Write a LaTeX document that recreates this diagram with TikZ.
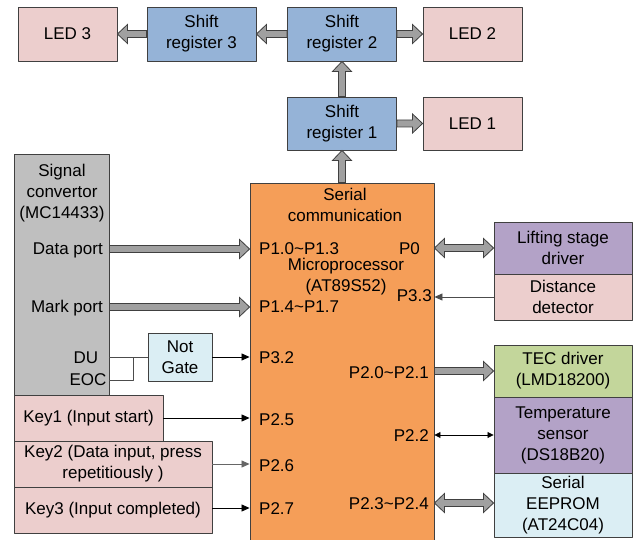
\documentclass[tikz,border=0pt]{standalone}
\usepackage{fontspec}
\setmainfont{Liberation Sans}
\usetikzlibrary{calc,arrows.meta}
\definecolor{ledpink}{RGB}{236,206,205}
\definecolor{regblue}{RGB}{149,179,215}
\definecolor{cpuorange}{RGB}{245,158,88}
\definecolor{convgray}{RGB}{191,191,191}
\definecolor{drvpurple}{RGB}{179,162,199}
\definecolor{tecgreen}{RGB}{195,214,155}
\definecolor{gatecyan}{RGB}{219,238,244}
\definecolor{edge}{RGB}{64,64,64}
\definecolor{busgray}{RGB}{160,160,160}
% block arrow from #1 to #2
\newcommand\busarrow[2]{%
  \coordinate (fa-s) at (#1); \coordinate (fa-e) at (#2);
  \coordinate (fa-h) at ($(fa-e)!10pt!(fa-s)$);
  \draw[bus] ($(fa-s)!3.5pt!90:(fa-e)$) -- ($(fa-h)!3.5pt!90:(fa-e)$) -- ($(fa-h)!9.5pt!90:(fa-e)$) -- (fa-e)
    -- ($(fa-h)!9.5pt!-90:(fa-e)$) -- ($(fa-h)!3.5pt!-90:(fa-e)$) -- ($(fa-s)!3.5pt!-90:(fa-e)$) -- cycle;}
% block arrow with two heads
\newcommand\busdarrow[2]{%
  \coordinate (fa-s) at (#1); \coordinate (fa-e) at (#2);
  \coordinate (fa-g) at ($(fa-s)!10pt!(fa-e)$);
  \coordinate (fa-h) at ($(fa-e)!10pt!(fa-s)$);
  \draw[bus] (fa-s) -- ($(fa-g)!9.5pt!90:(fa-e)$) -- ($(fa-g)!3.5pt!90:(fa-e)$) -- ($(fa-h)!3.5pt!90:(fa-e)$)
    -- ($(fa-h)!9.5pt!90:(fa-e)$) -- (fa-e) -- ($(fa-h)!9.5pt!-90:(fa-e)$) -- ($(fa-h)!3.5pt!-90:(fa-e)$)
    -- ($(fa-g)!3.5pt!-90:(fa-e)$) -- ($(fa-g)!9.5pt!-90:(fa-e)$) -- cycle;}
\tikzset{
  box/.style={draw=edge, line width=0.9pt, inner sep=0pt, align=center},
  txt/.style={inner sep=0pt, align=center},
  port/.style={inner sep=0pt, text height=12pt, text depth=0pt},
  bus/.style={draw=edge, fill=busgray, line width=0.8pt, line join=miter},
  wire/.style={draw=black, line width=0.8pt},
  sigtip/.style={-{Triangle[length=8pt,width=7pt]}},
  bothtip/.style={{Triangle[length=6pt,width=6pt]}-{Triangle[length=6pt,width=6pt]}}
}
\begin{document}
\begin{tikzpicture}[x=1pt, y=-1pt, font=\fontsize{17}{21}\selectfont, line join=round]
    \useasboundingbox (0,0) rectangle (638,540);
    % display chain
    \node[box, fill=ledpink, minimum width=99pt, minimum height=54pt] (led3) at (67.5,34) {LED 3};
    \node[box, fill=regblue, minimum width=109pt, minimum height=54pt] (sr3) at (201.5,34) {Shift\\register 3};
    \node[box, fill=regblue, minimum width=109pt, minimum height=54pt] (sr2) at (342,34) {Shift\\register 2};
    \node[box, fill=ledpink, minimum width=99pt, minimum height=54pt] (led2) at (472.5,34) {LED 2};
    \node[box, fill=regblue, minimum width=109pt, minimum height=53pt] (sr1) at (342,123.5) {Shift\\register 1};
    \node[box, fill=ledpink, minimum width=99pt, minimum height=53pt] (led1) at (472.5,123.5) {LED 1};
    % converter and keys
    \node[box, fill=convgray, minimum width=95pt, minimum height=241pt] (sig) at (61.5,274.5) {};
    \node[txt] (sigtxt) at (62,193) {Signal\\convertor\\(MC14433)};
    \node[port, anchor=east] (dport) at (103,249) {Data port};
    \node[port, anchor=east] (mport) at (103,307) {Mark port};
    \node[port] (du) at (86,357) {DU};
    \node[port] (eoc) at (88,380) {EOC};
    \node[box, fill=ledpink, minimum width=149pt, minimum height=46pt] (key1) at (88.5,418) {Key1 (Input start)};
    \node[box, fill=ledpink, minimum width=198pt, minimum height=46pt] (key2) at (113,464) {Key2 (Data input, press\\repetitiously )};
    \node[box, fill=ledpink, minimum width=198pt, minimum height=46pt] (key3) at (113,510) {Key3 (Input completed)};
    \node[box, fill=gatecyan, minimum width=64pt, minimum height=48pt] (notg) at (180,357) {Not\\Gate};
    % microprocessor
    \node[box, fill=cpuorange, minimum width=184pt, minimum height=360pt] (mcu) at (342,363) {};
    \node[txt] (sercom) at (345,205) {Serial\\communication};
    \node[txt] (mcutxt) at (346,277) {Microprocessor\\(AT89S52)};
    \foreach \n/\y/\t in {p10/249/P1.0\textasciitilde P1.3, p14/307/P1.4\textasciitilde P1.7, p32/357/P3.2, p25/419/P2.5, p26/465/P2.6, p27/508/P2.7}
        \node[port, anchor=west] (\n) at (259,\y) {\t};
    \foreach \n/\x/\y/\t in {p0/420/249/P0, p33/432/296/P3.3, p20/429/372/P2.0\textasciitilde P2.1, p22/429/435/P2.2, p23/429/503/P2.3\textasciitilde P2.4}
        \node[port, anchor=east] (\n) at (\x,\y) {\t};
    % peripherals
    \node[box, fill=drvpurple, minimum width=138pt, minimum height=52pt] (lift) at (563,248) {Lifting stage\\driver};
    \node[box, fill=ledpink, minimum width=138pt, minimum height=46pt] (dist) at (563,297) {Distance\\detector};
    \node[box, fill=tecgreen, minimum width=138pt, minimum height=52pt] (tec) at (563,371) {TEC driver\\(LMD18200)};
    \node[box, fill=drvpurple, minimum width=138pt, minimum height=76pt] (temp) at (563,435) {Temperature\\sensor\\(DS18B20)};
    \node[box, fill=gatecyan, minimum width=138pt, minimum height=64pt] (eep) at (563,505) {Serial\\EEPROM\\(AT24C04)};
    % buses
    \busarrow{mcu.north}{sr1.south}
    \busarrow{sr1.north}{sr2.south}
    \busarrow{sr2.west}{sr3.east}
    \busarrow{sr3.west}{led3.east}
    \busarrow{sr2.east}{led2.west}
    \busarrow{sr1.east}{led1.west}
    \busarrow{sig.east |- p10}{mcu.west |- p10}
    \busarrow{sig.east |- p14}{mcu.west |- p14}
    \busdarrow{mcu.east |- lift.west}{lift.west}
    \busarrow{mcu.east |- tec.west}{tec.west}
    \busdarrow{mcu.east |- p23}{eep.west |- p23}
    % single lines
    \coordinate (tap) at (133,357);
    \draw[wire, draw=black!70] (sig.east |- notg.west) -- (notg.west);
    \draw[wire, draw=black!70] (sig.east |- eoc) -- (tap |- eoc) -- (tap);
    \draw[wire, sigtip] (notg.east) -- (mcu.west |- notg.east);
    \draw[wire, sigtip] (key1.east) -- (mcu.west |- key1.east);
    \draw[wire, sigtip, draw=black!60] (key2.east) -- (mcu.west |- key2.east);
    \draw[wire, sigtip] (key3.east |- p27) -- (mcu.west |- p27);
    \draw[wire, sigtip, draw=black!70] (dist.west) -- (mcu.east |- dist.west);
    \draw[wire, bothtip] (mcu.east |- temp.west) -- (temp.west);
\end{tikzpicture}
\end{document}
